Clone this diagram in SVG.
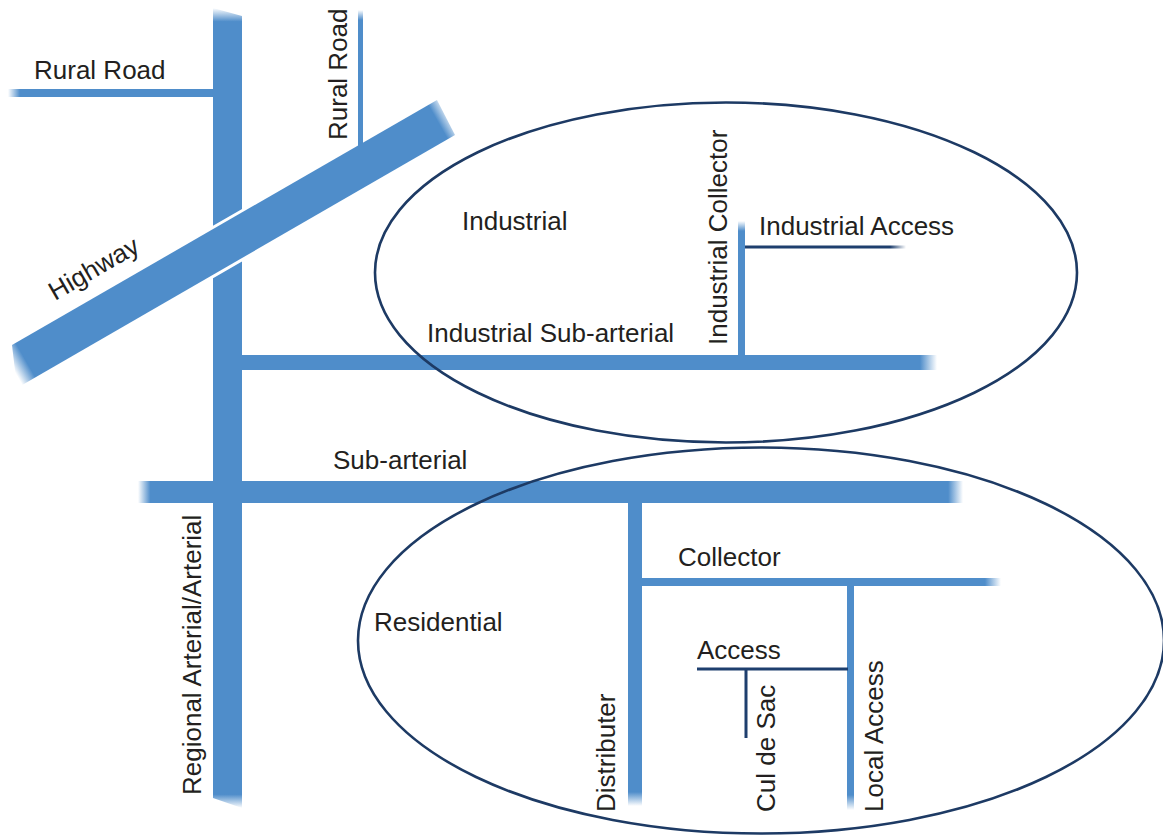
<svg xmlns="http://www.w3.org/2000/svg" width="1163" height="835" viewBox="0 0 1163 835">
  <style>
    .lbl { font-family: "Liberation Sans", Arial, Helvetica, sans-serif; font-size: 26px; fill: #231f20; }
    .zone { fill: none; stroke: #1d3a64; stroke-width: 2.6; }
    .lane { fill: #1e3f6e; }
    .hwy { stroke: #ffffff; stroke-width: 6; paint-order: stroke; stroke-linejoin: miter; }
  </style>
  <defs>
    <!-- soft faded road ends -->
    <linearGradient id="gArt" gradientUnits="userSpaceOnUse" x1="0" y1="8" x2="0" y2="808">
      <stop offset="0" stop-color="#4f8dca" stop-opacity="0"/>
      <stop offset="0.017" stop-color="#4f8dca"/>
      <stop offset="0.983" stop-color="#4f8dca"/>
      <stop offset="1" stop-color="#4f8dca" stop-opacity="0"/>
    </linearGradient>
    <linearGradient id="gRuralH" gradientUnits="userSpaceOnUse" x1="8" y1="0" x2="20" y2="0">
      <stop offset="0" stop-color="#4f8dca" stop-opacity="0"/>
      <stop offset="1" stop-color="#4f8dca"/>
    </linearGradient>
    <linearGradient id="gRuralV" gradientUnits="userSpaceOnUse" x1="0" y1="10" x2="0" y2="20">
      <stop offset="0" stop-color="#4f8dca" stop-opacity="0"/>
      <stop offset="1" stop-color="#4f8dca"/>
    </linearGradient>
    <linearGradient id="gHwy" gradientUnits="userSpaceOnUse" x1="12" y1="367" x2="452" y2="116">
      <stop offset="0" stop-color="#4f8dca" stop-opacity="0"/>
      <stop offset="0.03" stop-color="#4f8dca"/>
      <stop offset="0.97" stop-color="#4f8dca"/>
      <stop offset="1" stop-color="#4f8dca" stop-opacity="0"/>
    </linearGradient>
    <linearGradient id="gIndSub" gradientUnits="userSpaceOnUse" x1="920" y1="0" x2="937" y2="0">
      <stop offset="0" stop-color="#4f8dca"/>
      <stop offset="1" stop-color="#4f8dca" stop-opacity="0"/>
    </linearGradient>
    <linearGradient id="gIndCol" gradientUnits="userSpaceOnUse" x1="0" y1="221" x2="0" y2="231">
      <stop offset="0" stop-color="#4f8dca" stop-opacity="0"/>
      <stop offset="1" stop-color="#4f8dca"/>
    </linearGradient>
    <linearGradient id="gIndAcc" gradientUnits="userSpaceOnUse" x1="890" y1="0" x2="906" y2="0">
      <stop offset="0" stop-color="#1e3f6e"/>
      <stop offset="1" stop-color="#1e3f6e" stop-opacity="0"/>
    </linearGradient>
    <linearGradient id="gSub" gradientUnits="userSpaceOnUse" x1="138" y1="0" x2="963" y2="0">
      <stop offset="0" stop-color="#4f8dca" stop-opacity="0"/>
      <stop offset="0.015" stop-color="#4f8dca"/>
      <stop offset="0.982" stop-color="#4f8dca"/>
      <stop offset="1" stop-color="#4f8dca" stop-opacity="0"/>
    </linearGradient>
    <linearGradient id="gDist" gradientUnits="userSpaceOnUse" x1="0" y1="792" x2="0" y2="806">
      <stop offset="0" stop-color="#4f8dca"/>
      <stop offset="1" stop-color="#4f8dca" stop-opacity="0"/>
    </linearGradient>
    <linearGradient id="gColl" gradientUnits="userSpaceOnUse" x1="985" y1="0" x2="1001" y2="0">
      <stop offset="0" stop-color="#4f8dca"/>
      <stop offset="1" stop-color="#4f8dca" stop-opacity="0"/>
    </linearGradient>
    <linearGradient id="gLocal" gradientUnits="userSpaceOnUse" x1="0" y1="795" x2="0" y2="810">
      <stop offset="0" stop-color="#4f8dca"/>
      <stop offset="1" stop-color="#4f8dca" stop-opacity="0"/>
    </linearGradient>
  </defs>

  <rect width="1163" height="835" fill="#ffffff"/>

  <!-- road network -->
  <g id="roads">
    <g id="arterial"><polygon points="213,8 242,16 242,808 213,798" fill="url(#gArt)"/></g>
    <g id="rural-road-west"><rect x="8" y="89" width="206" height="8" fill="url(#gRuralH)"/></g>
    <g id="industrial-sub-arterial"><rect x="240" y="355" width="697" height="15" fill="url(#gIndSub)"/></g>
    <g id="sub-arterial"><rect x="138" y="481" width="825" height="22" fill="url(#gSub)"/></g>
    <g id="highway"><polygon class="hwy" points="12,345 437,100 455,135 17,388" fill="url(#gHwy)"/></g>
    <g id="rural-road-north"><polygon points="358,10 363,10 363,146 358,149" fill="url(#gRuralV)"/></g>
    <g id="industrial-collector"><rect x="738" y="221" width="7" height="136" fill="url(#gIndCol)"/></g>
    <g id="industrial-access"><rect x="745" y="245.5" width="161" height="3" fill="url(#gIndAcc)"/></g>
    <g id="distributer"><rect x="628" y="500" width="14" height="306" fill="url(#gDist)"/></g>
    <g id="collector"><rect x="640" y="578" width="361" height="8" fill="url(#gColl)"/></g>
    <g id="local-access"><rect x="847" y="584" width="7" height="226" fill="url(#gLocal)"/></g>
    <g id="access"><rect class="lane" x="697" y="667.5" width="151" height="3"/></g>
    <g id="cul-de-sac"><rect class="lane" x="744.5" y="669" width="3" height="69"/></g>
  </g>

  <!-- land-use zones -->
  <g id="zone-industrial"><ellipse class="zone" cx="726" cy="272.5" rx="351" ry="170"/></g>
  <g id="zone-residential"><ellipse class="zone" cx="761" cy="640.5" rx="403" ry="193"/></g>

  <!-- labels -->
  <g id="labels">
    <text class="lbl" x="34" y="79">Rural Road</text>
    <text class="lbl" x="347" y="140" transform="rotate(-90 347 140)">Rural Road</text>
    <text class="lbl" x="55" y="301" transform="rotate(-30 55 301)">Highway</text>
    <text class="lbl" x="462" y="230">Industrial</text>
    <text class="lbl" x="727" y="345" transform="rotate(-90 727 345)">Industrial Collector</text>
    <text class="lbl" x="759" y="235">Industrial Access</text>
    <text class="lbl" x="427" y="342">Industrial Sub-arterial</text>
    <text class="lbl" x="333" y="469">Sub-arterial</text>
    <text class="lbl" x="201" y="795" transform="rotate(-90 201 795)">Regional Arterial/Arterial</text>
    <text class="lbl" x="374" y="631">Residential</text>
    <text class="lbl" x="678" y="566">Collector</text>
    <text class="lbl" x="697" y="659">Access</text>
    <text class="lbl" x="615" y="812" transform="rotate(-90 615 812)">Distributer</text>
    <text class="lbl" x="775" y="812" transform="rotate(-90 775 812)">Cul de Sac</text>
    <text class="lbl" x="883" y="812" transform="rotate(-90 883 812)">Local Access</text>
  </g>
</svg>
